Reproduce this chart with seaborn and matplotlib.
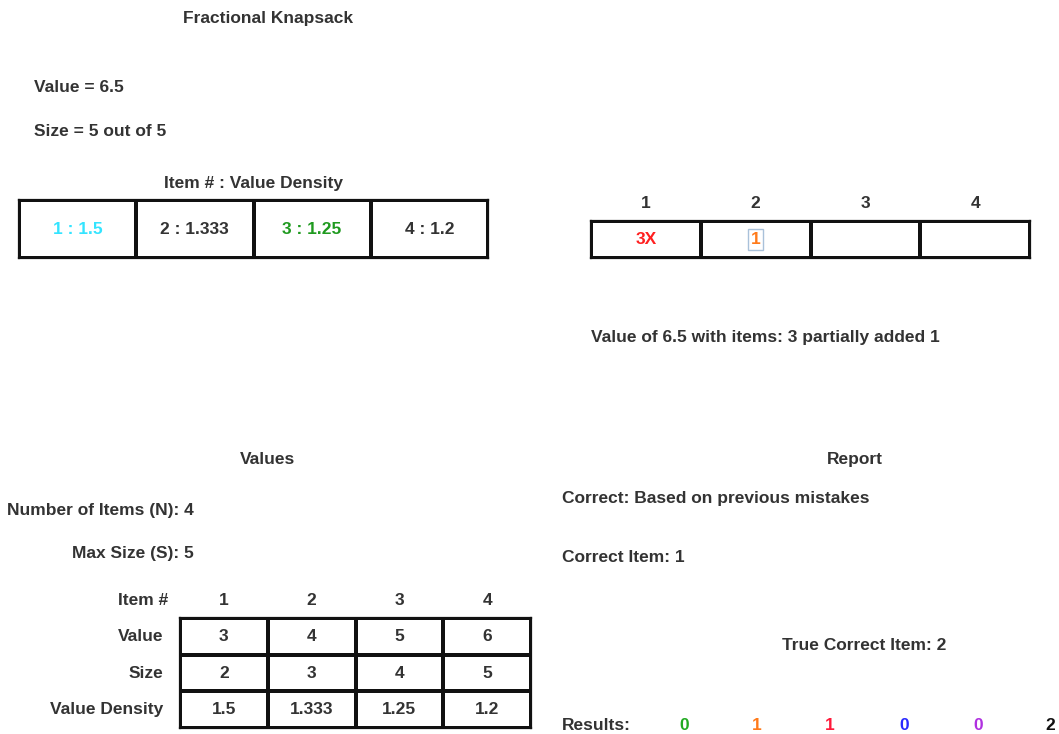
import numpy as np
import matplotlib
matplotlib.use('Agg')
import matplotlib.pyplot as plt
from matplotlib.colors import ListedColormap
import seaborn as sns

sns.set_theme(style='white')
plt.rcParams['font.family'] = ['Liberation Sans', 'DejaVu Sans']
plt.rcParams['font.weight'] = 'bold'

# data
items = [1, 2, 3, 4]
values = [3, 4, 5, 6]
sizes = [2, 3, 4, 5]
densities = ['1.5', '1.333', '1.25', '1.2']
density_colors = ['#33e4ff', '#333333', '#1f9a1f', '#333333']
knapsack_cells = ['3X', '1', '', '']
knapsack_colors = ['#ff2020', '#ff7a1a', '#333333', '#333333']
row_labels = ['Value', 'Size', 'Value Density']
results = ['0', '1', '1', '0', '0', '2']
result_colors = ['#22aa22', '#ff7a1a', '#ff1a3a', '#2a2aff', '#b030e0', '#111111']

TXT = '#333333'
FS = 12.5
W, H = 1059, 734

fig = plt.figure(figsize=(W / 100, H / 100), dpi=100)
bg = fig.add_axes([0, 0, 1, 1])
bg.set_xlim(0, W)
bg.set_ylim(H, 0)
bg.axis('off')


def box(x0, y0, x1, y1):
    return fig.add_axes([x0 / W, 1 - y1 / H, (x1 - x0) / W, (y1 - y0) / H])


def grid(ax, data, labels, xt=False, yt=False):
    sns.heatmap(data, ax=ax, cmap=ListedColormap(['white']), cbar=False,
                annot=np.array(labels), fmt='', linewidths=1.6, linecolor='#111111',
                xticklabels=xt, yticklabels=yt,
                annot_kws={'fontsize': FS, 'fontweight': 'bold', 'color': TXT})
    for s in ax.spines.values():
        s.set_visible(True)
        s.set_color('#111111')
        s.set_linewidth(1.6)
    ax.tick_params(length=0)


def t(x, y, s, ha='left', color=TXT, **kw):
    bg.text(x, y + 1.5, s, ha=ha, va='center', color=color, fontsize=FS, fontweight='bold', **kw)


# header texts
t(268, 17, 'Fractional Knapsack', ha='center')
t(34, 86, 'Value = 6.5')
t(34, 130, 'Size = 5 out of 5')
t(254, 182, 'Item # : Value Density', ha='center')

# item / density strip
ax1 = box(19, 200, 488, 258)
lab1 = [[f'{i} : {d}' for i, d in zip(items, densities)]]
grid(ax1, np.zeros((1, 4)), lab1)
for txt, c in zip(ax1.texts, density_colors):
    txt.set_color(c)

# knapsack strip
ax2 = box(591, 221, 1030, 258)
grid(ax2, np.zeros((1, 4)), [knapsack_cells], xt=items)
ax2.xaxis.tick_top()
ax2.tick_params(axis='x', pad=7, labelsize=FS, labelcolor=TXT)
for txt, c in zip(ax2.texts, knapsack_colors):
    txt.set_color(c)
ax2.texts[1].set_bbox(dict(facecolor='none', edgecolor='#a9c1da', linewidth=1, pad=2))

t(591, 336, 'Value of 6.5 with items: 3 partially added 1')

# values panel
t(268, 458, 'Values', ha='center')
t(194, 509, 'Number of Items (N): 4', ha='right')
t(194, 552, 'Max Size (S): 5', ha='right')
t(168, 599, 'Item #', ha='right')

ax3 = box(180, 618, 531, 728)
lab3 = [[str(v) for v in values], [str(s) for s in sizes], densities]
grid(ax3, np.zeros((3, 4)), lab3, xt=items, yt=row_labels)
ax3.xaxis.tick_top()
ax3.tick_params(axis='x', pad=7, labelsize=FS, labelcolor=TXT)
ax3.tick_params(axis='y', pad=12, labelsize=FS, labelcolor=TXT, rotation=0)
for lbl in ax3.get_xticklabels() + ax3.get_yticklabels():
    lbl.set_fontweight('bold')
for lbl in ax2.get_xticklabels():
    lbl.set_fontweight('bold')

# report panel
t(855, 458, 'Report', ha='center')
t(562, 497, 'Correct: Based on previous mistakes')
t(562, 556, 'Correct Item: 1')
t(782, 644, 'True Correct Item: 2')
t(562, 724, 'Results:')
for x, r, c in zip([684, 757, 830, 904, 978, 1050], results, result_colors):
    t(x, 724, r, ha='center', color=c)

fig.savefig('out.png', dpi=100)
